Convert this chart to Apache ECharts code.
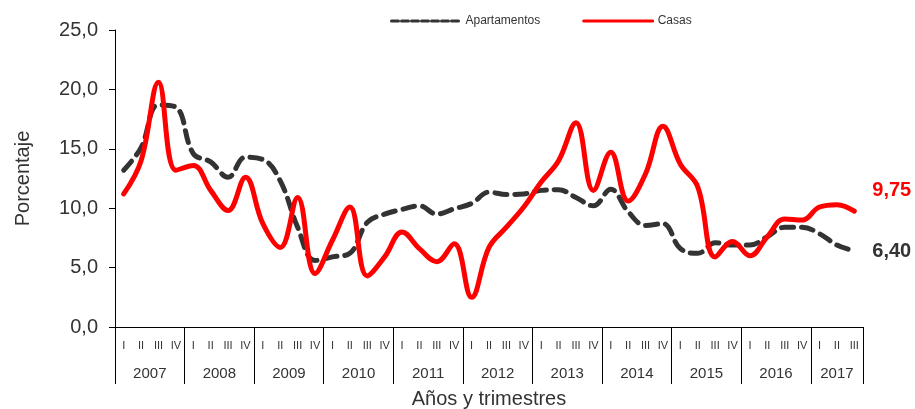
<!DOCTYPE html>
<html>
<head>
<meta charset="utf-8">
<script src="https://cdn.jsdelivr.net/npm/echarts@6/dist/echarts.min.js"></script>
<style>html,body{margin:0;padding:0;background:#fff}#c{width:915px;height:409px}</style>
</head>
<body>
<div id="c"></div>
<script>
const quarterLabels = ['I','II','III','IV','I','II','III','IV','I','II','III','IV','I','II','III','IV',
  'I','II','III','IV','I','II','III','IV','I','II','III','IV','I','II','III','IV',
  'I','II','III','IV','I','II','III','IV','I','II','III'];
const years = ['2007','2008','2009','2010','2011','2012','2013','2014','2015','2016','2017'];
const quartersPerYear = [4,4,4,4,4,4,4,4,4,4,3];
const apartamentos = [13.2,15.1,18.7,18.5,14.6,13.9,12.6,14.3,14.1,12.3,8.4,5.6,5.9,6.2,8.8,9.5,9.9,10.2,9.5,9.95,10.4,11.35,11.15,11.2,11.5,11.55,10.9,10.2,11.6,9.7,8.55,8.7,6.6,6.2,7.1,6.9,6.9,7.6,8.4,8.4,7.85,6.9,6.4];
const casas = [11.2,14.0,20.6,13.2,13.6,11.5,9.8,12.6,8.7,6.7,10.9,4.5,7.3,10.1,4.3,5.9,8.0,6.6,5.5,7.0,2.5,6.7,8.4,10.1,12.2,14.0,17.2,11.5,14.7,10.6,12.9,16.9,13.7,11.8,5.9,7.2,6.0,7.6,9.1,9.0,10.1,10.3,9.75];
const endLabels = ['6,40','9,75'];
const seriesNames = ['Apartamentos','Casas'];

// year axis built on half-quarter positions
const nQ = quarterLabels.length;
const yearPos = [];
for (let i = 0; i <= 2 * nQ; i++) yearPos.push('p' + i);
const yearTicks = new Set();
const yearLabelAt = {};
let start = 0;
years.forEach((y, k) => {
  const s = start * 2, e = (start + quartersPerYear[k]) * 2;
  yearTicks.add(s); yearTicks.add(e);
  yearLabelAt[(s + e) / 2] = y;
  start += quartersPerYear[k];
});

const FONT = 'Liberation Sans';
const chart = echarts.init(document.getElementById('c'));
chart.setOption({
  animation: false,
  textStyle: {fontFamily: FONT},
  grid: {left: 115, right: 52, top: 30, bottom: 82, containLabel: false, outerBoundsMode: 'none'},
  legend: {
    top: 10, left: 385, itemWidth: 69, itemHeight: 10, itemGap: 42,
    itemStyle: {opacity: 0},
    textStyle: {fontFamily: FONT, fontSize: 12, color: '#333'},
    data: [
      {name: seriesNames[0], lineStyle: {width: 3, type: [7, 3]}},
      {name: seriesNames[1], lineStyle: {width: 3}}
    ]
  },
  xAxis: [
    {
      type: 'category', data: quarterLabels, boundaryGap: true,
      axisLine: {lineStyle: {color: '#000', width: 1}},
      axisTick: {interval: 0, length: 25, lineStyle: {color: '#000'}},
      axisLabel: {interval: 0, margin: 13, fontSize: 11, color: '#333', fontFamily: FONT}
    },
    {
      type: 'category', data: yearPos, boundaryGap: false, position: 'bottom',
      axisLine: {show: false},
      axisTick: {show: true, length: 57, interval: (i) => yearTicks.has(i), lineStyle: {color: '#000'}},
      axisLabel: {interval: (i) => yearLabelAt[i] !== undefined, formatter: (v, i) => yearLabelAt[i] || '',
        margin: 39, fontSize: 15, color: '#333', fontFamily: FONT},
      name: 'Años y trimestres', nameLocation: 'middle', nameGap: 62,
      nameTextStyle: {fontSize: 20, color: '#333', fontFamily: FONT}
    }
  ],
  yAxis: {
    type: 'value', min: 0, max: 25, interval: 5,
    splitLine: {show: false},
    axisLine: {show: true, lineStyle: {color: '#000'}},
    axisTick: {show: true, length: 6, lineStyle: {color: '#000'}},
    axisLabel: {margin: 17, fontSize: 20, color: '#333', fontFamily: FONT,
      formatter: (v) => v.toFixed(1).replace('.', ',')},
    name: 'Porcentaje', nameLocation: 'middle', nameGap: 82, nameRotate: 90,
    nameTextStyle: {fontSize: 20, color: '#333', fontFamily: FONT}
  },
  series: [
    {
      name: seriesNames[0], type: 'line', data: apartamentos, smooth: 0.4, symbol: 'none',
      lineStyle: {color: '#333', width: 5, type: [12, 8], cap: 'round'},
      itemStyle: {color: '#333'},
      endLabel: {show: true, formatter: endLabels[0], distance: 18, offset: [0, 1],
        fontSize: 20, fontWeight: 'bold', color: '#333', fontFamily: FONT}
    },
    {
      name: seriesNames[1], type: 'line', data: casas, smooth: 0.4, symbol: 'none',
      lineStyle: {color: '#ff0000', width: 5, cap: 'round'},
      itemStyle: {color: '#ff0000'},
      endLabel: {show: true, formatter: endLabels[1], distance: 18, offset: [0, -21],
        fontSize: 20, fontWeight: 'bold', color: '#ff0000', fontFamily: FONT}
    }
  ]
});
</script>
</body>
</html>
